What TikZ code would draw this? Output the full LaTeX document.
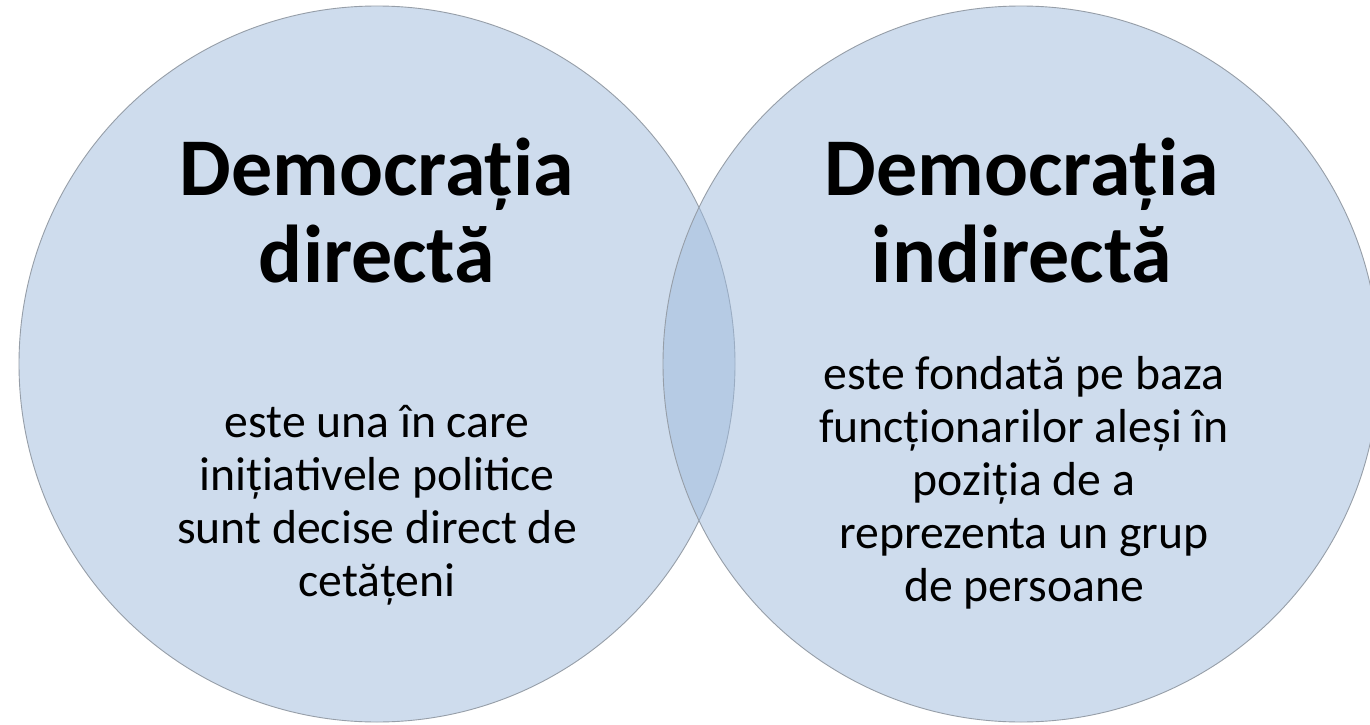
\documentclass[tikz,border=0pt]{standalone}
\usepackage{fontspec}
\setmainfont{Carlito}
\definecolor{vennblue}{RGB}{159,187,221}
\definecolor{venngrey}{RGB}{150,158,168}
\begin{document}
\begin{tikzpicture}[x=1pt,y=-1pt,
  venn/.style={circle, minimum size=716pt, inner sep=0pt, fill=vennblue, fill opacity=0.5, draw=venngrey, line width=0.9pt},
  titletext/.style={font=\fontsize{82}{87}\selectfont\bfseries, align=center, anchor=base, inner sep=0pt},
  bodytext/.style={font=\fontsize{47.7}{53}\selectfont, align=center, anchor=base, inner sep=0pt}]
\fill[white] (0,0) rectangle (1370,725);
\useasboundingbox (0,0) rectangle (1370,725);
\node[venn] (left) at (377,364) {};
\node[venn] (right) at (1021,364) {};
\node[titletext] (t1) at (377,282) {Democrația\\directă};
\node[titletext] (t2) at (1022,282) {Democrația\\indirectă};
\node[bodytext] (b1) at (377,596) {este una în care\\inițiativele politice\\sunt decise direct de\\cetățeni};
\node[bodytext] (b2) at (1024,601) {este fondată pe baza\\funcționarilor aleși în\\poziția de a\\reprezenta un grup\\de persoane};
\end{tikzpicture}
\end{document}
